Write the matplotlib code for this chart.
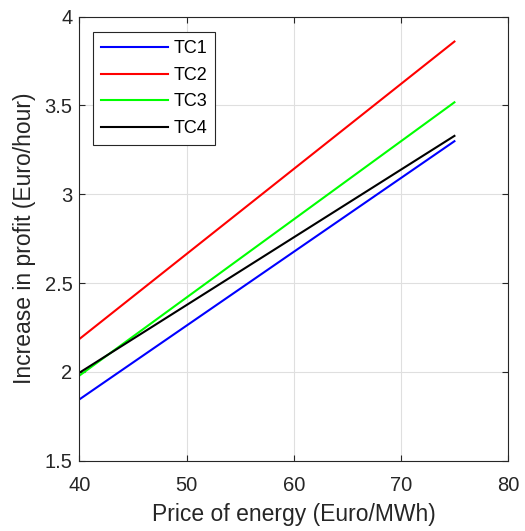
import matplotlib
matplotlib.use("Agg")
import matplotlib.pyplot as plt

plt.rcParams['font.family'] = ['Liberation Sans', 'DejaVu Sans']

price = [40, 75]
tc1 = [1.846, 3.299]
tc2 = [2.186, 3.860]
tc3 = [1.980, 3.518]
tc4 = [1.996, 3.329]
names = ["TC1", "TC2", "TC3", "TC4"]
colors = ["#0000ff", "#ff0000", "#00ff00", "#000000"]

fig = plt.figure(figsize=(5.25, 5.31), dpi=100)
ax = fig.add_axes([0.1514, 0.1322, 0.8162, 0.8364])

for y, name, c in zip([tc1, tc2, tc3, tc4], names, colors):
    ax.plot(price, y, color=c, lw=1.5, label=name)

ax.set_xlim(40, 80)
ax.set_ylim(1.5, 4)
ax.set_xticks([40, 50, 60, 70, 80])
ax.set_yticks([1.5, 2, 2.5, 3, 3.5, 4])
ax.set_yticklabels(["1.5", "2", "2.5", "3", "3.5", "4"])
ax.grid(True, color="#dfdfdf", lw=0.8)
ax.set_axisbelow(True)
ax.tick_params(direction="in", length=4, labelsize=14.5, colors="#262626", top=True, right=True)
ax.tick_params(axis="x", pad=11)
ax.tick_params(axis="y", pad=5)
for s in ax.spines.values():
    s.set_color("#262626")
    s.set_linewidth(0.8)
ax.set_xlabel("Price of energy (Euro/MWh)", fontsize=16.5, color="#262626", labelpad=6)
ax.set_ylabel("Increase in profit (Euro/hour)", fontsize=16.5, color="#262626", labelpad=6)

leg = ax.legend(loc="upper left", bbox_to_anchor=(0.032, 0.965), fontsize=13, fancybox=False,
                framealpha=1, edgecolor="#262626", handlelength=3.7, labelspacing=0.53,
                borderpad=0.45, handletextpad=0.28, borderaxespad=0)
leg.get_frame().set_linewidth(0.8)

fig.savefig("out.png", dpi=100)
